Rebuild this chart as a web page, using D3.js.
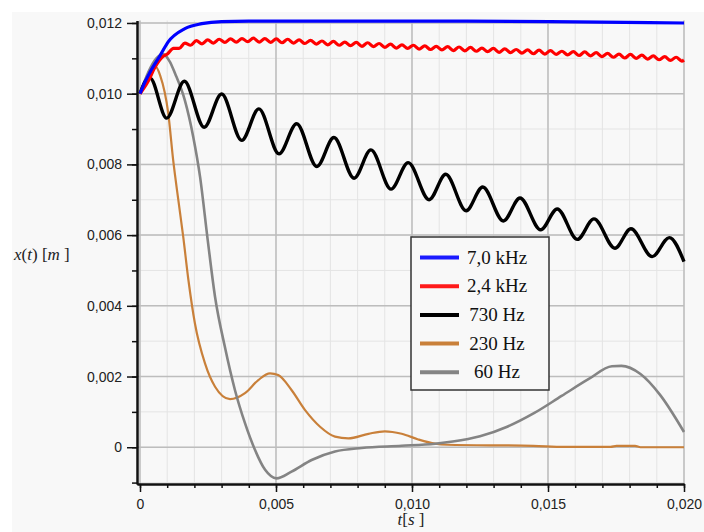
<!DOCTYPE html>
<html>
<head>
<meta charset="utf-8">
<script src="https://cdn.jsdelivr.net/npm/d3@7"></script>
<style>
  html, body { margin: 0; padding: 0; background: #fff; }
  svg { display: block; }
</style>
</head>
<body>
<div class="canvas"></div>
<script>
// series values [t (s), x (m)]
const blue = [
  [0, 0.0100], [0.0002, 0.01036], [0.00037, 0.01061], [0.00074, 0.01108],
  [0.00103, 0.01146], [0.00165, 0.01184], [0.00227, 0.01198], [0.0030, 0.01204],
  [0.0040, 0.01205], [0.0120, 0.01205], [0.0160, 0.01203], [0.0200, 0.01200]
];

const red = [
  [0, 0.0100], [0.0003, 0.01035], [0.00055, 0.01075], [0.00081, 0.01103],
  [0.00102, 0.01113], [0.00123, 0.01128], [0.00144, 0.01128], [0.00165, 0.01143],
  [0.00186, 0.01137], [0.00207, 0.01150], [0.00228, 0.01141], [0.00249, 0.01152],
  [0.00270, 0.01143], [0.00291, 0.01154], [0.00312, 0.01145], [0.00333, 0.01155],
  [0.00354, 0.01146], [0.00375, 0.01156], [0.00396, 0.01147], [0.00417, 0.01157],
  [0.00438, 0.01146], [0.00459, 0.01156], [0.00480, 0.01145], [0.00501, 0.01155],
  [0.00522, 0.01144], [0.00543, 0.01154], [0.00564, 0.01143], [0.00585, 0.01152],
  [0.00606, 0.01142], [0.00627, 0.01151], [0.00648, 0.01140], [0.00669, 0.01149],
  [0.00690, 0.01138], [0.00711, 0.01148], [0.00732, 0.01137], [0.00753, 0.01146],
  [0.00774, 0.01136], [0.00795, 0.01145], [0.00816, 0.01134], [0.00837, 0.01144],
  [0.00858, 0.01133], [0.00879, 0.01142], [0.00900, 0.01131], [0.00921, 0.01140],
  [0.00942, 0.01129], [0.00963, 0.01138], [0.00984, 0.01128], [0.01005, 0.01137],
  [0.01026, 0.01126], [0.01047, 0.01135], [0.01068, 0.01125], [0.01089, 0.01134],
  [0.01110, 0.01124], [0.01131, 0.01133], [0.01152, 0.01122], [0.01173, 0.01132],
  [0.01194, 0.01121], [0.01215, 0.01131], [0.01236, 0.01120], [0.01257, 0.01129],
  [0.01278, 0.01119], [0.01299, 0.01128], [0.01320, 0.01117], [0.01341, 0.01127],
  [0.01362, 0.01116], [0.01383, 0.01125], [0.01404, 0.01115], [0.01425, 0.01124],
  [0.01446, 0.01113], [0.01467, 0.01123], [0.01488, 0.01112], [0.01509, 0.01122],
  [0.01530, 0.01111], [0.01551, 0.01120], [0.01572, 0.01110], [0.01593, 0.01119],
  [0.01614, 0.01108], [0.01635, 0.01118], [0.01656, 0.01107], [0.01677, 0.01116],
  [0.01698, 0.01105], [0.01719, 0.01114], [0.01740, 0.01103], [0.01761, 0.01112],
  [0.01782, 0.01101], [0.01803, 0.01111], [0.01824, 0.01100], [0.01845, 0.01109],
  [0.01866, 0.01098], [0.01887, 0.01107], [0.01908, 0.01096], [0.01929, 0.01105],
  [0.01950, 0.01094], [0.01971, 0.01103], [0.01992, 0.01092], [0.0200, 0.01095]
];

const black = [
  [0, 0.0100], [0.0002, 0.01035], [0.00037, 0.01044], [0.00098, 0.00931],
  [0.00163, 0.01035], [0.00236, 0.00905], [0.00300, 0.00999], [0.00374, 0.00868],
  [0.00437, 0.00957], [0.00511, 0.00830], [0.00576, 0.00915], [0.00650, 0.00794],
  [0.00713, 0.00876], [0.00787, 0.00761], [0.00849, 0.00841], [0.00923, 0.00730],
  [0.00986, 0.00805], [0.01063, 0.00700], [0.01124, 0.00772], [0.01199, 0.00669],
  [0.01260, 0.00736], [0.01336, 0.00640], [0.01397, 0.00705], [0.01473, 0.00615],
  [0.01534, 0.00674], [0.01608, 0.00588], [0.01669, 0.00646], [0.01746, 0.00563],
  [0.01805, 0.00618], [0.01883, 0.00539], [0.01946, 0.00593], [0.0200, 0.00525]
];

const orange = [
  [0, 0.0100], [0.0003, 0.01050], [0.00055, 0.01078], [0.00074, 0.01052],
  [0.00104, 0.00944], [0.00122, 0.00812], [0.00141, 0.00699], [0.00159, 0.00595],
  [0.00178, 0.00473], [0.00202, 0.00350], [0.00239, 0.00237], [0.00276, 0.00171],
  [0.00331, 0.00136], [0.00386, 0.00153], [0.00435, 0.00190], [0.00478, 0.00209],
  [0.00508, 0.00204], [0.00557, 0.00162], [0.00607, 0.00105], [0.00662, 0.00058],
  [0.00717, 0.00030], [0.00766, 0.00025], [0.00840, 0.00038], [0.00900, 0.00045],
  [0.00962, 0.00038], [0.01023, 0.00022], [0.01085, 0.00010], [0.01130, 0.00007],
  [0.01446, 0.00004], [0.01560, 0.00001], [0.01730, 0.00001], [0.01752, 0.00004],
  [0.01820, 0.00004], [0.01840, 0.0], [0.0200, 0.0]
];

const gray = [
  [0, 0.0100], [0.0003, 0.01060], [0.0006, 0.01100], [0.00085, 0.01112],
  [0.0011, 0.01090], [0.00129, 0.01057], [0.00165, 0.00981], [0.00196, 0.00877],
  [0.00221, 0.00764], [0.00249, 0.00586], [0.00276, 0.00425], [0.00312, 0.00284],
  [0.00349, 0.00162], [0.00386, 0.00068], [0.00423, -0.00008], [0.00460, -0.00064],
  [0.00502, -0.00088], [0.00557, -0.00069], [0.00631, -0.00036], [0.00717, -0.00012],
  [0.00815, -0.00002], [0.00962, 0.00004], [0.01085, 0.00010], [0.01150, 0.00016],
  [0.01250, 0.00031], [0.01350, 0.00058], [0.01450, 0.00097], [0.01550, 0.00145],
  [0.01650, 0.00193], [0.01735, 0.00229], [0.01770, 0.00230], [0.01840, 0.00207],
  [0.01912, 0.00148], [0.0200, 0.00043]
];

const legendLabels = ['7,0 kHz', '2,4 kHz', '730 Hz', '230 Hz', '60 Hz'];
const xMajorTicks = [0, 0.005, 0.010, 0.015, 0.020];
const xMinorTicks = d3.range(0, 21).map(i => i / 1000);
const yMajorTicks = [0, 0.002, 0.004, 0.006, 0.008, 0.010, 0.012];
const yMinorTicks = d3.range(-1, 13).map(i => i / 1000);

const width = 704;
const height = 532;

const svg = d3
  .select('.canvas')
  .append('svg')
  .attr('width', width)
  .attr('height', height);

// grey panel
svg.append('rect')
  .attr('x', 12).attr('y', 12)
  .attr('width', width - 12).attr('height', height - 12)
  .attr('fill', '#f8f8f8');

const x = d3.scaleLinear().domain([-0.00011, 0.020]).range([137, 684]);
const y = d3.scaleLinear().domain([-0.00104, 0.01207]).range([484, 20.5]);

const loc = d3.formatLocale({ decimal: ',', thousands: '.', grouping: [3], currency: ['', ''] });
const fmt3 = loc.format('.3f');
const tickFmt = d => (Math.abs(d) < 1e-9 ? '0' : fmt3(d));

// grid
const grid = svg.append('g');
grid.selectAll('.vminor').data(xMinorTicks).enter().append('line')
  .attr('x1', d => x(d)).attr('x2', d => x(d))
  .attr('y1', y.range()[0]).attr('y2', y.range()[1])
  .attr('stroke', '#e4e4e4').attr('stroke-width', 1);
grid.selectAll('.hminor').data(yMinorTicks).enter().append('line')
  .attr('x1', x.range()[0]).attr('x2', x.range()[1])
  .attr('y1', d => y(d)).attr('y2', d => y(d))
  .attr('stroke', '#e4e4e4').attr('stroke-width', 1);
grid.selectAll('.vmajor').data(xMajorTicks).enter().append('line')
  .attr('x1', d => x(d)).attr('x2', d => x(d))
  .attr('y1', y.range()[0]).attr('y2', y.range()[1])
  .attr('stroke', '#bdbdbd').attr('stroke-width', 1.5);
grid.selectAll('.hmajor').data(yMajorTicks).enter().append('line')
  .attr('x1', x.range()[0]).attr('x2', x.range()[1])
  .attr('y1', d => y(d)).attr('y2', d => y(d))
  .attr('stroke', '#bdbdbd').attr('stroke-width', 1.5);

// curves
const line = d3.line()
  .x(d => x(d[0]))
  .y(d => y(d[1]))
  .curve(d3.curveMonotoneX);

const series = [
  { data: orange, color: '#c9803a', w: 2.2 },
  { data: gray, color: '#848484', w: 2.6 },
  { data: black, color: '#000000', w: 3.4 },
  { data: red, color: '#ff0000', w: 3.2 },
  { data: blue, color: '#0000ff', w: 3.2 }
];

svg.append('g').selectAll('path').data(series).enter().append('path')
  .attr('d', d => line(d.data))
  .attr('fill', 'none')
  .attr('stroke', d => d.color)
  .attr('stroke-width', d => d.w)
  .attr('stroke-linejoin', 'round');

// axes
const xAxisGroup = svg.append('g').attr('transform', `translate(0, ${y.range()[0]})`);
const yAxisGroup = svg.append('g').attr('transform', `translate(${x.range()[0]}, 0)`);

xAxisGroup.append('g').call(d3.axisBottom(x).tickValues(xMinorTicks).tickSize(4).tickSizeOuter(0).tickFormat(''));
xAxisGroup.append('g').call(d3.axisBottom(x).tickValues(xMajorTicks).tickSize(8).tickSizeOuter(0).tickPadding(7).tickFormat(tickFmt));
yAxisGroup.append('g').call(d3.axisLeft(y).tickValues(yMinorTicks).tickSize(5).tickSizeOuter(0).tickFormat(''));
yAxisGroup.append('g').call(d3.axisLeft(y).tickValues(yMajorTicks).tickSize(10).tickSizeOuter(0).tickPadding(5).tickFormat(tickFmt));

svg.selectAll('.domain').attr('stroke', '#111').attr('stroke-width', 2);
svg.selectAll('.tick line').attr('stroke', '#111').attr('stroke-width', 1.5);
svg.selectAll('.tick text')
  .attr('font-family', '"Liberation Sans", Arial, sans-serif')
  .attr('font-size', 14)
  .attr('fill', '#222');

// axis titles
const yTitle = svg.append('text')
  .attr('x', 14).attr('y', 260)
  .attr('font-family', '"Liberation Serif", "Times New Roman", serif')
  .attr('font-size', 17)
  .attr('fill', '#222');
[['x', true], ['(', false], ['t', true], [')', false], [' [', false], ['m', true], [' ]', false]]
  .forEach(([s, it]) => yTitle.append('tspan').text(s).attr('font-style', it ? 'italic' : 'normal'));

const xTitle = svg.append('text')
  .attr('x', 411).attr('y', 525)
  .attr('text-anchor', 'middle')
  .attr('font-family', '"Liberation Serif", "Times New Roman", serif')
  .attr('font-size', 17)
  .attr('fill', '#222');
[['t', true], ['[', false], ['s', true], [' ]', false]]
  .forEach(([s, it]) => xTitle.append('tspan').text(s).attr('font-style', it ? 'italic' : 'normal'));

// legend
const legendColors = ['#1a1aff', '#ff1a1a', '#000000', '#c9803a', '#848484'];
const legend = svg.append('g');
legend.append('rect')
  .attr('x', 411).attr('y', 237)
  .attr('width', 138).attr('height', 153)
  .attr('fill', '#f8f8f8')
  .attr('stroke', '#333')
  .attr('stroke-width', 1.5);

const rows = legend.selectAll('.row').data(legendLabels).enter().append('g')
  .attr('transform', (d, i) => `translate(0, ${257.5 + i * 28.7})`);
rows.append('line')
  .attr('x1', 420).attr('x2', 459)
  .attr('stroke', (d, i) => legendColors[i])
  .attr('stroke-width', 4);
rows.append('text')
  .attr('x', 497).attr('y', 6)
  .attr('text-anchor', 'middle')
  .attr('font-family', '"Liberation Serif", "Times New Roman", serif')
  .attr('font-size', 19)
  .attr('fill', '#111')
  .text(d => d);
</script>
</body>
</html>
